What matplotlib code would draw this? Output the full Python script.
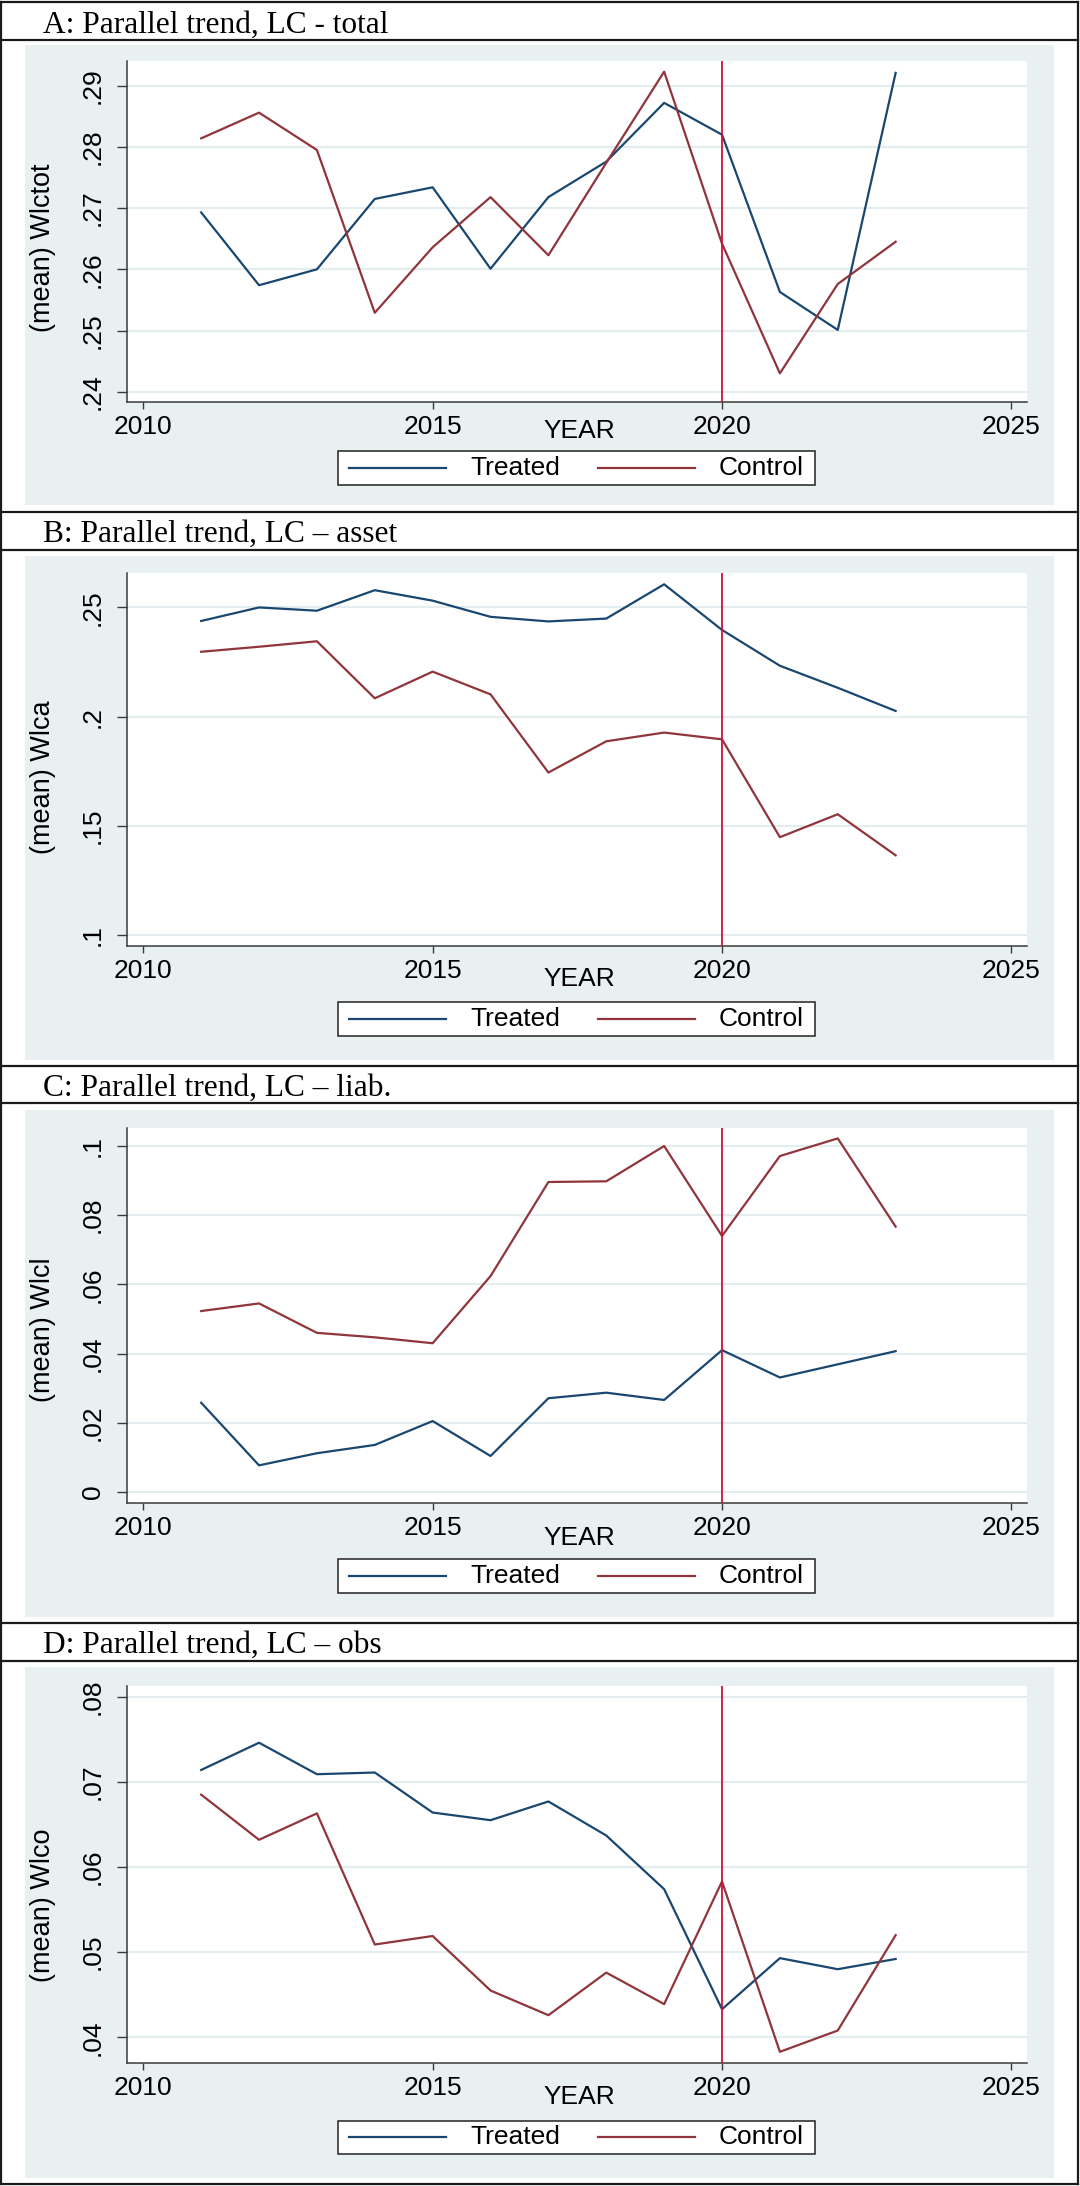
import matplotlib
matplotlib.use("Agg")
import matplotlib.pyplot as plt
from matplotlib.lines import Line2D
from matplotlib.patches import Rectangle

# data
years = [2011, 2012, 2013, 2014, 2015, 2016, 2017, 2018, 2019, 2020, 2021, 2022, 2023]

treated_lctot = [0.2693, 0.2574, 0.2600, 0.2715, 0.2734, 0.2601, 0.2718, 0.2776, 0.2872, 0.2820, 0.2563, 0.2501, 0.2921]
control_lctot = [0.2814, 0.2856, 0.2795, 0.2529, 0.2636, 0.2718, 0.2623, 0.2774, 0.2923, 0.2642, 0.2430, 0.2576, 0.2645]

treated_lca = [0.2438, 0.2500, 0.2485, 0.2579, 0.2531, 0.2457, 0.2436, 0.2449, 0.2606, 0.2397, 0.2233, 0.2132, 0.2026]
control_lca = [0.2297, 0.2320, 0.2345, 0.2084, 0.2206, 0.2102, 0.1744, 0.1887, 0.1927, 0.1896, 0.1448, 0.1553, 0.1365]

treated_lcl = [0.0258, 0.0077, 0.0112, 0.0136, 0.0205, 0.0104, 0.0271, 0.0287, 0.0266, 0.0410, 0.0331, 0.0369, 0.0407]
control_lcl = [0.0523, 0.0545, 0.0460, 0.0447, 0.0430, 0.0624, 0.0896, 0.0898, 0.1000, 0.0740, 0.0971, 0.1022, 0.0767]

treated_lco = [0.0714, 0.0746, 0.0709, 0.0711, 0.0664, 0.0655, 0.0677, 0.0637, 0.0574, 0.0433, 0.0493, 0.0480, 0.0492]
control_lco = [0.0685, 0.0632, 0.0663, 0.0509, 0.0519, 0.0455, 0.0426, 0.0476, 0.0439, 0.0583, 0.0383, 0.0408, 0.0520]

titles = ["A: Parallel trend, LC - total", "B: Parallel trend, LC \u2013 asset",
          "C: Parallel trend, LC \u2013 liab.", "D: Parallel trend, LC \u2013 obs"]
ylabels = ["(mean) Wlctot", "(mean) Wlca", "(mean) Wlcl", "(mean) Wlco"]
series_names = ["Treated", "Control"]

xticks = [2010, 2015, 2020, 2025]
yticks_lctot = [0.24, 0.25, 0.26, 0.27, 0.28, 0.29]
ylabels_lctot = [".24", ".25", ".26", ".27", ".28", ".29"]
yticks_lca = [0.10, 0.15, 0.20, 0.25]
ylabels_lca = [".1", ".15", ".2", ".25"]
yticks_lcl = [0.0, 0.02, 0.04, 0.06, 0.08, 0.10]
ylabels_lcl = ["0", ".02", ".04", ".06", ".08", ".1"]
yticks_lco = [0.04, 0.05, 0.06, 0.07, 0.08]
ylabels_lco = [".04", ".05", ".06", ".07", ".08"]
treat_year = 2020

# pixel layout of each stacked panel (figure is 1080 x 2186 px)
W, H = 1080, 2186
layout = [
    dict(border=1.5, base=32.7, sep=39.5, grey=(45, 505), plot=(61, 401.7),
         ylim=(0.23837, 0.29404), ylab_y=0.452, year_y=431, leg_y=468),
    dict(border=511.7, base=541.7, sep=549.5, grey=(555.5, 1060), plot=(573, 945.7),
         ylim=(0.0951, 0.26577), ylab_y=0.452, year_y=979, leg_y=1019),
    dict(border=1065.7, base=1096, sep=1103.3, grey=(1110, 1616.7), plot=(1128.3, 1503.3),
         ylim=(-0.00327, 0.10512), ylab_y=0.462, year_y=1538, leg_y=1576),
    dict(border=1623.3, base=1652.7, sep=1660.7, grey=(1666.7, 2177.7), plot=(1686, 2063.3),
         ylim=(0.03695, 0.08126), ylab_y=0.420, year_y=2097, leg_y=2137.3),
]
PLOT_X = (127.3, 1027.0)
XLIM = (2009.7235, 2025.27)

NAVY = "#1A476F"
MAROON = "#90353B"
XLINE = "#D0103A"
BG = "#E8F0F2"
GRID = "#E3ECEF"
SPINE = "#3A3A3A"
SANS = "Liberation Sans"
SERIF = "Liberation Serif"


def fx(px):
    return px / W


def fy(py):
    return 1 - py / H


def hline(fig, y, x0=1, x1=1078.3, lw=1.6):
    fig.add_artist(Line2D([fx(x0), fx(x1)], [fy(y), fy(y)], transform=fig.transFigure,
                          color="#1A1A1A", lw=lw, zorder=5))


def draw_panel(fig, lay, title, ylabel, treated, control, yticks, yticklabels):
    # panel frame and title strip
    hline(fig, lay["border"])
    hline(fig, lay["sep"])
    fig.text(fx(43), fy(lay["base"]), title, family=SERIF, fontsize=22.6,
             va="baseline", ha="left")

    g0, g1 = lay["grey"]
    fig.add_artist(Rectangle((fx(25), fy(g1)), fx(1054.3) - fx(25), fy(g0) - fy(g1),
                             transform=fig.transFigure, facecolor=BG, edgecolor="none", zorder=-1))

    p0, p1 = lay["plot"]
    ax = fig.add_axes([fx(PLOT_X[0]), fy(p1), fx(PLOT_X[1]) - fx(PLOT_X[0]), fy(p0) - fy(p1)])
    ax.set_facecolor("white")
    ax.plot(years, treated, color=NAVY, lw=1.6, zorder=3)
    ax.plot(years, control, color=MAROON, lw=1.6, zorder=3)
    ax.axvline(treat_year, color=XLINE, lw=1.3, zorder=4)

    ax.set_xlim(*XLIM)
    ax.set_ylim(*lay["ylim"])
    ax.set_xticks(xticks)
    ax.set_xticklabels([str(t) for t in xticks], family=SANS, fontsize=19)
    ax.set_yticks(yticks)
    ax.set_yticklabels(yticklabels, family=SANS, fontsize=19, rotation=90, va="center")
    ax.grid(axis="y", color=GRID, lw=1.5, zorder=0)
    ax.set_axisbelow(True)

    for side in ("top", "right"):
        ax.spines[side].set_visible(False)
    for side in ("left", "bottom"):
        ax.spines[side].set_color(SPINE)
        ax.spines[side].set_linewidth(1.1)
    ax.tick_params(axis="x", length=5, width=1.0, color=SPINE, pad=4.5)
    ax.tick_params(axis="y", length=7.5, width=1.0, color=SPINE, pad=8.5)

    ax.text((43 - PLOT_X[0]) / (PLOT_X[1] - PLOT_X[0]), lay["ylab_y"], ylabel,
            transform=ax.transAxes, rotation=90, ha="center", va="center",
            family=SANS, fontsize=19.5)
    fig.text(fx(579), fy(lay["year_y"]), "YEAR", family=SANS, fontsize=19,
             ha="center", va="center")

    # legend box, drawn by hand to match the Stata layout
    ly = lay["leg_y"]
    fig.add_artist(Rectangle((fx(337.7), fy(ly + 16.6)), fx(814.7) - fx(337.7), fy(ly - 16.6) - fy(ly + 16.6),
                             transform=fig.transFigure, facecolor="white", edgecolor="#222222",
                             lw=1.1, zorder=6))
    for (x0, x1, tx), color, name in zip([(349, 445.7, 470), (598, 695, 719)], [NAVY, MAROON], series_names):
        fig.add_artist(Line2D([fx(x0), fx(x1)], [fy(ly), fy(ly)], transform=fig.transFigure,
                              color=color, lw=1.6, zorder=7))
        fig.text(fx(tx), fy(ly + 7), name, family=SANS, fontsize=19, ha="left",
                 va="baseline", zorder=7)
    return ax


def main():
    fig = plt.figure(figsize=(W / 100, H / 100), dpi=100)
    fig.patch.set_facecolor("white")

    panels = [
        (treated_lctot, control_lctot, yticks_lctot, ylabels_lctot),
        (treated_lca, control_lca, yticks_lca, ylabels_lca),
        (treated_lcl, control_lcl, yticks_lcl, ylabels_lcl),
        (treated_lco, control_lco, yticks_lco, ylabels_lco),
    ]
    for lay, title, ylab, (tr, co, yt, ytl) in zip(layout, titles, ylabels, panels):
        draw_panel(fig, lay, title, ylab, tr, co, yt, ytl)

    # outer frame
    hline(fig, 2184.3)
    for x in (1, 1078.3):
        fig.add_artist(Line2D([fx(x), fx(x)], [fy(1.5), fy(2184.3)], transform=fig.transFigure,
                              color="#1A1A1A", lw=1.6, zorder=5))

    fig.savefig("out.png", dpi=100)


if __name__ == "__main__":
    main()
